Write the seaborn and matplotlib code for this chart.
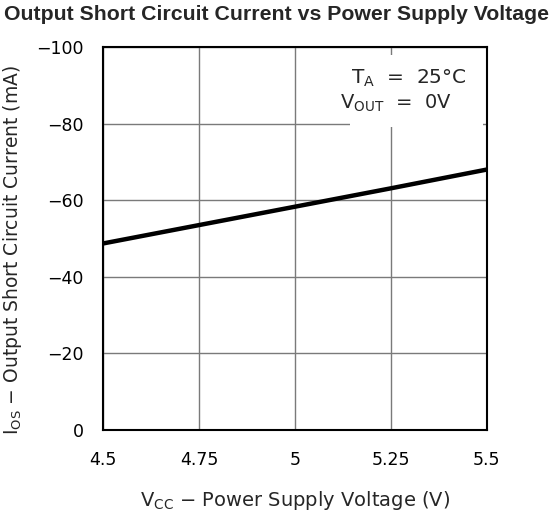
import pandas as pd
import matplotlib
matplotlib.use("Agg")
import matplotlib.pyplot as plt
import matplotlib.patches as mpatches
import seaborn as sns

# datos
vcc = [4.5, 4.75, 5.0, 5.25, 5.5]
ios = [-48.7, -53.5, -58.3, -63.1, -68.0]
xticks = [4.5, 4.75, 5.0, 5.25, 5.5]
xticklabels = ["4.5", "4.75", "5", "5.25", "5.5"]
yticks = [0, -20, -40, -60, -80, -100]
yticklabels = ["0", "\u221220", "\u221240", "\u221260", "\u221280", "\u2212100"]

df = pd.DataFrame({"vcc": vcc, "ios": ios})

sns.set_theme(style="white")
plt.rcParams["font.family"] = ["DejaVu Sans"]
plt.rcParams["mathtext.default"] = "regular"

fig = plt.figure(figsize=(5.57, 5.14), dpi=100)
ax = fig.add_axes([0.185, 0.1634, 0.689, 0.7452])

sns.lineplot(data=df, x="vcc", y="ios", ax=ax, color="black", linewidth=3.2, zorder=3)

ax.set_xlim(4.5, 5.5)
ax.set_ylim(0, -100)
ax.set_xticks(xticks)
ax.set_xticklabels(xticklabels)
ax.set_yticks(yticks)
ax.set_yticklabels(yticklabels)
ax.grid(True, color="#7a7a7a", linewidth=1.0)
ax.tick_params(axis="both", labelsize=12.5, length=0, colors="black")
ax.tick_params(axis="x", pad=15)
ax.tick_params(axis="y", pad=14)
for s in ax.spines.values():
    s.set_color("black")
    s.set_linewidth(1.5)
    s.set_zorder(5)

ax.set_xlabel("$V_{CC}$ \u2212 Power Supply Voltage (V)", fontsize=14)
ax.xaxis.set_label_coords(0.5, -0.155)
ax.set_ylabel("$I_{OS}$ \u2212 Output Short Circuit Current (mA)", fontsize=13.5)
ax.yaxis.set_label_coords(-0.205, 0.47)

# caja blanca de condiciones (tapa la rejilla)
ax.add_patch(mpatches.Rectangle((0.643, 0.79), 0.347, 0.19, transform=ax.transAxes,
                                facecolor="white", edgecolor="none", zorder=4))
ax.text(0.646, 0.919, "$T_A$  =  25\u00b0C", transform=ax.transAxes,
        ha="left", va="center", fontsize=14.5, zorder=6)
ax.text(0.617, 0.854, "$V_{OUT}$  =  0V", transform=ax.transAxes,
        ha="left", va="center", fontsize=14, zorder=6)

fig.text(0.008, 0.971, "Output Short Circuit Current vs Power Supply Voltage",
         fontsize=15.3, fontweight="bold", family="Liberation Sans", va="center", ha="left")

fig.savefig("out.png", dpi=100)
